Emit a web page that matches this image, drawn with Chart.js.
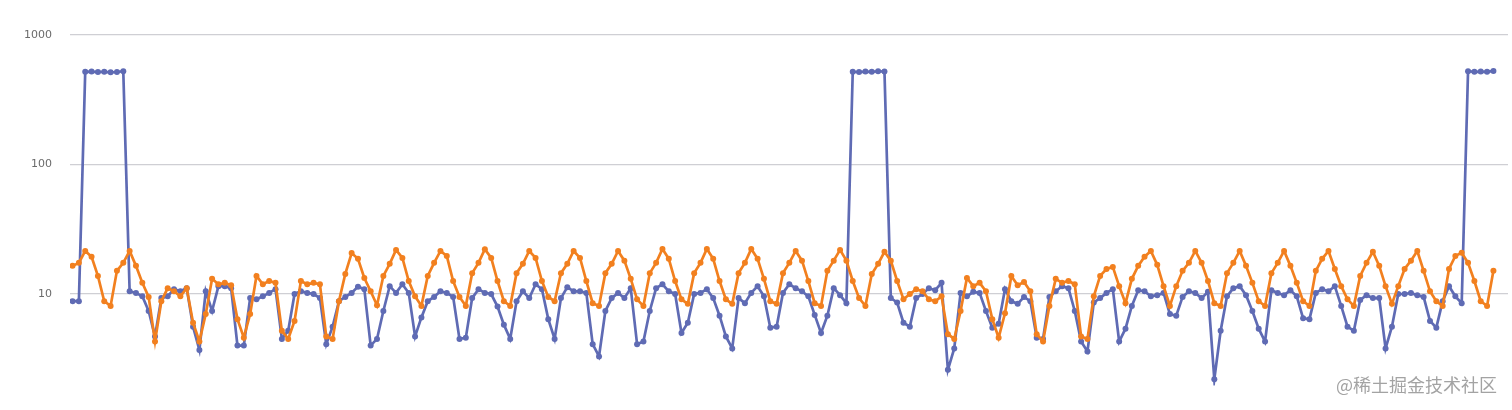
<!DOCTYPE html>
<html>
<head>
<meta charset="utf-8">
<script src="https://cdn.jsdelivr.net/npm/chart.js@4/dist/chart.umd.min.js"></script>
<style>
  html, body { margin: 0; padding: 0; background: #fff; }
  #wrap { position: relative; width: 1512px; height: 410px; }
</style>
</head>
<body>
<div id="wrap"><canvas id="grafico" width="1512" height="410"></canvas></div>
<script>
// valores (escala log)
var serieAzul = [
  8.8, 8.8,
  520, 522, 518, 520, 515, 518, 525,
  10.5, 10.2, 9.6, 7.4, 4.7, 9.3, 9.6, 10.9, 10.5, 11.1, 5.6, 3.7,
  10.5, 7.4, 11.5, 11.5, 11.1, 4.0, 4.0, 9.3, 9.1,
  9.6, 10.2, 10.9, 4.5, 5.2, 10.0, 10.5, 10.2, 10.0, 9.3,
  4.1, 5.6, 8.8, 9.5, 10.2, 11.4, 10.9, 4.0, 4.5, 7.4,
  11.5, 10.2, 11.9, 10.2, 4.7, 6.6, 8.8, 9.5, 10.5, 10.2,
  9.5, 4.5, 4.6, 9.3, 10.9, 10.2, 10.0, 8.0, 5.8, 4.5,
  8.8, 10.5, 9.3, 11.9, 10.9, 6.4, 4.5, 9.3, 11.3, 10.5,
  10.5, 10.2, 4.1, 3.3, 7.4, 9.3, 10.2, 9.3, 11.1, 4.1,
  4.3, 7.4, 11.1, 11.9, 10.5, 10.0, 5.0, 6.0, 10.0, 10.2,
  10.9, 9.3, 6.8, 4.7, 3.8, 9.3, 8.5, 10.2, 11.5, 9.6,
  5.5, 5.6, 10.2, 11.9, 11.1, 10.5, 9.6, 6.9, 5.0, 6.8,
  11.1, 9.8, 8.5, 520, 518, 522, 520, 525, 522, 9.3,
  8.6, 6.0, 5.6, 9.3, 10.0, 11.1, 10.7, 12.2, 2.6, 3.8,
  10.2, 9.6, 10.4, 10.2, 7.4, 5.5, 5.9, 10.9, 8.8, 8.4,
  9.5, 8.8, 4.6, 4.5, 9.5, 10.5, 11.5, 11.1, 7.4, 4.3,
  3.6, 8.6, 9.3, 10.2, 10.9, 4.3, 5.4, 8.1, 10.7, 10.5,
  9.6, 9.8, 10.2, 7.0, 6.8, 9.5, 10.5, 10.2, 9.3, 10.4,
  2.2, 5.2, 9.6, 11.1, 11.5, 9.8, 7.4, 5.4, 4.3, 10.7,
  10.2, 9.8, 10.7, 9.6, 6.5, 6.4, 10.2, 10.9, 10.5, 11.5,
  8.1, 5.6, 5.2, 9.0, 9.8, 9.3, 9.3, 3.8, 5.6, 10.0,
  10.0, 10.2, 9.8, 9.5, 6.2, 5.5, 8.8, 11.5, 9.6, 8.5,
  525, 520, 522, 520, 528
];

var serieLaranja = [
  16.5, 17.4, 21.5, 19.4, 13.8, 8.8, 8.1, 15.1, 17.4, 21.5,
  16.5, 12.2, 9.5, 4.3, 8.8, 11.1, 10.5, 9.6, 11.1, 6.0,
  4.3, 7.0, 13.1, 11.9, 12.2, 11.7, 6.4, 4.6, 7.0, 13.8,
  11.9, 12.6, 12.2, 5.2, 4.5, 6.2, 12.6, 11.9, 12.2, 11.9,
  4.7, 4.5, 8.8, 14.3, 20.7, 18.7, 13.3, 10.5, 8.2, 13.8,
  17.1, 21.9, 19.0, 12.6, 9.6, 8.1, 13.8, 17.4, 21.5, 19.7,
  12.6, 9.5, 8.1, 14.5, 17.4, 22.2, 19.0, 12.6, 8.8, 8.1,
  14.5, 17.1, 21.5, 19.0, 12.6, 9.5, 8.8, 14.5, 17.1, 21.5,
  19.0, 12.6, 8.5, 8.1, 14.5, 17.1, 21.5, 18.1, 13.1, 9.1,
  8.1, 14.5, 17.4, 22.3, 18.7, 12.6, 9.1, 8.4, 14.5, 17.4,
  22.3, 18.7, 12.6, 9.1, 8.4, 14.5, 17.4, 22.3, 18.7, 13.1,
  8.8, 8.4, 14.5, 17.4, 21.5, 18.1, 12.6, 8.5, 8.1, 15.1,
  18.1, 21.9, 18.1, 12.6, 9.3, 8.1, 14.3, 17.1, 21.2, 18.1,
  12.6, 9.1, 10.0, 10.9, 10.5, 9.1, 8.8, 9.6, 4.9, 4.5,
  7.4, 13.3, 11.5, 12.2, 10.5, 6.4, 4.6, 7.1, 13.8, 11.7,
  12.4, 10.5, 4.9, 4.3, 8.1, 13.1, 12.2, 12.6, 11.9, 4.7,
  4.5, 9.6, 13.8, 15.6, 16.2, 11.5, 8.5, 13.1, 16.5, 19.4,
  21.5, 16.8, 11.5, 8.1, 11.5, 15.1, 17.4, 21.5, 17.4, 12.6,
  8.5, 8.1, 14.5, 17.4, 21.5, 16.5, 12.2, 8.8, 8.1, 14.5,
  17.4, 21.5, 16.5, 12.2, 8.8, 8.1, 15.1, 18.7, 21.5, 15.6,
  11.5, 9.1, 8.1, 13.8, 17.4, 21.2, 16.5, 11.5, 8.4, 11.5,
  15.6, 18.1, 21.5, 15.1, 10.5, 8.8, 8.1, 15.6, 19.7, 20.8,
  17.4, 12.6, 8.8, 8.1, 15.1
];

var ticksY = [10, 100, 1000];
var marcaDagua = "@稀土掘金技术社区";

function pontos(valores) {
  var lista = [];
  for (var i = 0; i < valores.length; i++) {
    lista.push({ x: i, y: valores[i] });
  }
  return lista;
}

var marcaPlugin = {
  id: 'marca',
  afterDraw: function(chart) {
    var ctx = chart.ctx;
    ctx.save();
    ctx.font = '18px "Noto Sans CJK SC", sans-serif';
    ctx.fillStyle = '#a3a3a3';
    ctx.textAlign = 'right';
    ctx.textBaseline = 'middle';
    ctx.fillText(marcaDagua, 1497, 385);
    ctx.restore();
  }
};

var azul = "#5f6bb4";
var laranja = "#f2801f";

new Chart(document.getElementById('grafico'), {
  type: 'line',
  data: {
    datasets: [
      {
        label: 'A',
        data: pontos(serieAzul),
        borderColor: azul,
        backgroundColor: azul,
        pointBackgroundColor: azul,
        pointBorderColor: azul,
        borderWidth: 2.7,
        pointRadius: 3,
        pointBorderWidth: 0,
        lineTension: 0,
        fill: false,
        order: 1
      },
      {
        label: 'B',
        data: pontos(serieLaranja),
        borderColor: laranja,
        backgroundColor: laranja,
        pointBackgroundColor: laranja,
        pointBorderColor: laranja,
        borderWidth: 2.7,
        pointRadius: 3,
        pointBorderWidth: 0,
        lineTension: 0,
        fill: false,
        order: 0
      }
    ]
  },
  options: {
    responsive: false,
    animation: false,
    layout: { padding: { left: 0, right: 4, top: 35, bottom: 11 } },
    plugins: { legend: { display: false }, tooltip: { enabled: false } },
    scales: {
      x: {
        type: 'linear',
        display: false,
        min: -0.4,
        max: 226.3
      },
      y: {
        type: 'logarithmic',
        min: 1.97,
        max: 1000,
        afterBuildTicks: function(scale) {
          scale.ticks = ticksY.map(function(v) { return { value: v }; });
        },
        afterFit: function(scale) { scale.width = 70; },
        border: { display: false },
        grid: { color: '#cfcfd4', lineWidth: 1.3, drawTicks: false },
        ticks: {
          padding: 18,
          color: '#6b6b6b',
          font: { family: 'DejaVu Sans', size: 11 },
          callback: function(v) { return String(v); }
        }
      }
    }
  },
  plugins: [marcaPlugin]
});
</script>
</body>
</html>
